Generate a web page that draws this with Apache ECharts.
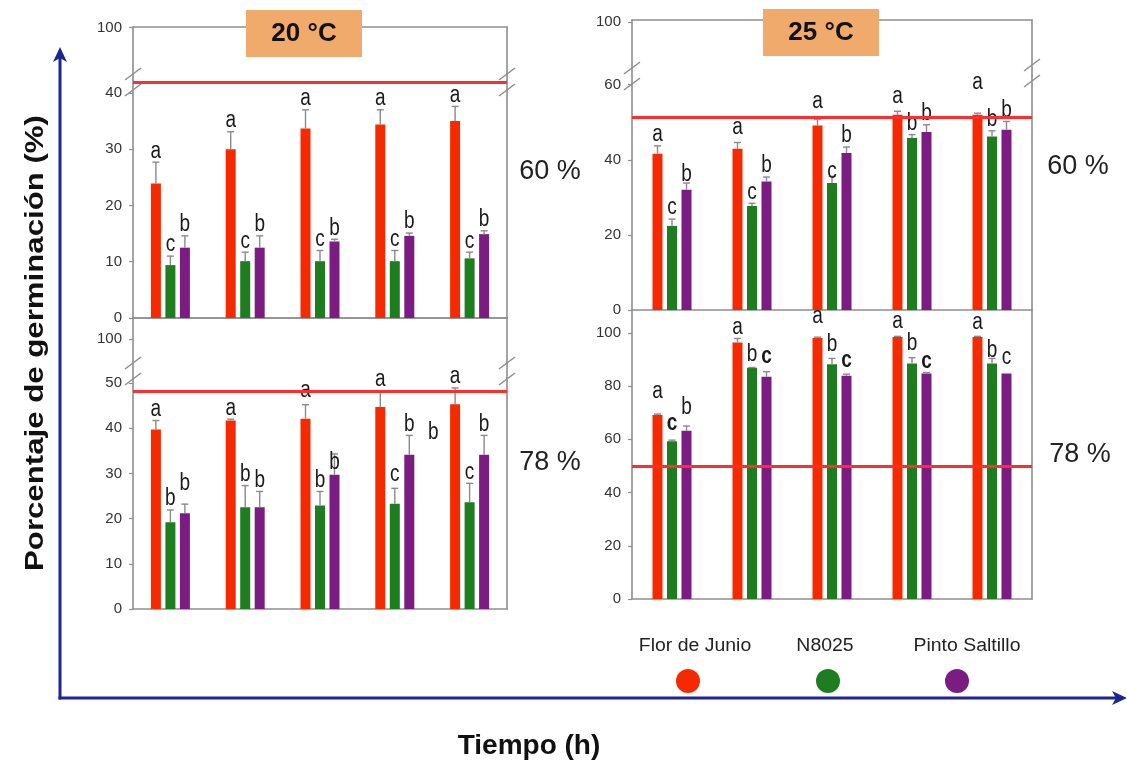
<!DOCTYPE html>
<html>
<head>
<meta charset="utf-8">
<script src="https://cdn.jsdelivr.net/npm/echarts@6/dist/echarts.min.js"></script>
<style>
  html, body { margin: 0; padding: 0; background: #ffffff; }
  #chart { width: 1127px; height: 762px; }
</style>
</head>
<body>
<div id="chart"></div>
<script>
// ---- Data -------------------------------------------------------------
const times = ['T1', 'T2', 'T3', 'T4', 'T5'];
const cultivars = ['Flor de Junio', 'N8025', 'Pinto Saltillo'];

// 20 °C, 60 % humidity
const t20h60Flor  = [23.9, 30.0, 33.7, 34.4, 35.0];
const t20h60FlorErr  = [3.8, 3.1, 3.3, 2.6, 2.6];
const t20h60N8025 = [9.4, 10.1, 10.1, 10.1, 10.6];
const t20h60N8025Err = [1.6, 1.6, 1.9, 1.9, 1.1];
const t20h60Pinto = [12.5, 12.5, 13.6, 14.6, 14.9];
const t20h60PintoErr = [2.1, 2.1, 0.4, 0.5, 0.6];
const t20h60Letters = [['a','a','a','a','a'], ['c','c','c','c','c'], ['b','b','b','b','b']];
const t20h60Threshold = 41.9;

// 20 °C, 78 % humidity
const t20h78Flor  = [39.7, 41.7, 42.1, 44.7, 45.3];
const t20h78FlorErr  = [2.0, 0.3, 3.1, 3.5, 3.6];
const t20h78N8025 = [19.2, 22.5, 22.9, 23.3, 23.6];
const t20h78N8025Err = [2.7, 4.8, 3.1, 3.4, 4.2];
const t20h78Pinto = [21.2, 22.5, 29.7, 34.1, 34.1];
const t20h78PintoErr = [2.0, 3.5, 4.6, 4.3, 4.3];
const t20h78Letters = [['a','a','a','a','a'], ['b','b','b','c','c'], ['b','b','b','b','b']];
const t20h78Threshold = 48.2;

// 25 °C, 60 % humidity
const t25h60Flor  = [41.6, 42.9, 49.1, 52.0, 52.0];
const t25h60FlorErr  = [2.1, 1.7, 1.7, 0.9, 0.4];
const t25h60N8025 = [22.4, 27.7, 33.8, 45.8, 46.2];
const t25h60N8025Err = [1.8, 0.7, 1.8, 0.9, 1.5];
const t25h60Pinto = [32.0, 34.2, 41.8, 47.4, 48.0];
const t25h60PintoErr = [1.8, 1.2, 1.6, 1.9, 2.2];
const t25h60Letters = [['a','a','a','a','a'], ['c','c','c','b','b'], ['b','b','b','b','b']];
const t25h60Threshold = 51.4;

// 25 °C, 78 % humidity
const t25h78Flor  = [69.1, 96.4, 98.1, 98.5, 98.5];
const t25h78FlorErr  = [0.4, 1.5, 0.3, 0.2, 0.2];
const t25h78N8025 = [59.3, 86.9, 88.2, 88.5, 88.5];
const t25h78N8025Err = [0.4, 0.1, 2.2, 2.2, 1.9];
const t25h78Pinto = [63.2, 83.5, 83.9, 84.7, 84.7];
const t25h78PintoErr = [1.8, 1.9, 0.6, 0.4, 0.0];
const t25h78Letters = [['a','a','a','a','a'], ['c','b','b','b','b'], ['b','c','c','c','c']];
const t25h78Threshold = 50.0;

// ---- Styling / layout -------------------------------------------------
const FONT = "'Liberation Sans', Arial, Helvetica, sans-serif";
const FRAME = '#8e8e8e';
const AXIS_BLUE = '#1c2590';
const COLORS = ['#f52a00', '#1e7d1e', '#7b1c82'];
const ERR_COLOR = '#8a8a8a';
const LINE_RED = '#ff2e2e';
const BAR_W = 10, BAR_GAP = 0.45, STEP = BAR_W * (1 + BAR_GAP);

// Letter nudges in pixels (key "group:bar"), negative = up
const panels = [
  {
    left: 133, width: 374,
    upper: { top: 27, height: 53, min: 60, max: 100.5 },
    lower: { top: 80, height: 238, max: 42.3, ticks: [0, 10, 20, 30, 40] },
    values: [t20h60Flor, t20h60N8025, t20h60Pinto],
    errs: [t20h60FlorErr, t20h60N8025Err, t20h60PintoErr],
    letters: t20h60Letters, threshold: t20h60Threshold,
    shifts: {}, bold: [], extra: [],
    breaks: [[133, 82], [507, 82]]
  },
  {
    left: 133, width: 374,
    upper: { top: 318, height: 60, min: 60, max: 121.5 },
    lower: { top: 378, height: 231, max: 51.1, ticks: [0, 10, 20, 30, 40, 50] },
    values: [t20h78Flor, t20h78N8025, t20h78Pinto],
    errs: [t20h78FlorErr, t20h78N8025Err, t20h78PintoErr],
    letters: t20h78Letters, threshold: t20h78Threshold,
    shifts: { '0:2': -10, '2:0': -3, '2:2': 20, '3:1': -3 }, bold: [],
    extra: [{ g: 3, k: 2, text: 'b', dx: 24, dy: 8 }],
    breaks: [[133, 371], [507, 371]]
  },
  {
    left: 632, width: 400,
    upper: { top: 20, height: 56, min: 60, max: 101.5 },
    lower: { top: 76, height: 234, max: 62.3, ticks: [0, 20, 40, 60] },
    values: [t25h60Flor, t25h60N8025, t25h60Pinto],
    errs: [t25h60FlorErr, t25h60N8025Err, t25h60PintoErr],
    letters: t25h60Letters, threshold: t25h60Threshold,
    shifts: { '0:2': 3, '1:0': -4, '2:0': -7, '2:1': 6, '3:0': -4, '4:0': -20 }, bold: [], extra: [],
    breaks: [[632, 76], [1032, 73]]
  },
  {
    left: 632, width: 400,
    upper: null,
    lower: { top: 310, height: 289, max: 108.6, ticks: [0, 20, 40, 60, 80, 100] },
    values: [t25h78Flor, t25h78N8025, t25h78Pinto],
    errs: [t25h78FlorErr, t25h78N8025Err, t25h78PintoErr],
    letters: t25h78Letters, threshold: t25h78Threshold,
    shifts: { '0:0': -11, '0:1': -6, '0:2': -7, '1:1': -2, '1:2': -4, '2:0': -10, '2:1': -3, '2:2': -3,
              '3:0': -4, '3:1': -3, '4:0': -3, '4:1': 3, '4:2': -5 },
    bold: ['0:1', '1:2', '2:2', '3:2'], extra: [],
    breaks: []
  }
];

// ---- Build option -----------------------------------------------------
const grids = [], xAxes = [], yAxes = [], series = [];
const frameLine = { show: true, lineStyle: { color: FRAME, width: 1.6 } };
const tickStyle = { color: FRAME, width: 1.2 };
const labelStyle = { color: '#333', fontSize: 15, fontFamily: FONT, margin: 11 };

function addGrid(left, top, width, height, xPos) {
  const gi = grids.length;
  grids.push({ left, top, width, height, containLabel: false });
  xAxes.push({
    gridIndex: gi, type: 'category', data: times, position: xPos,
    axisLine: frameLine, axisTick: { show: false }, axisLabel: { show: false }, splitLine: { show: false }
  });
  return gi;
}

function addYAxes(gi, min, max, ticks) {
  const leftIndex = yAxes.length;
  yAxes.push({
    gridIndex: gi, type: 'value', position: 'left', min, max,
    axisLine: frameLine,
    axisTick: { show: true, length: 4, lineStyle: tickStyle, customValues: ticks },
    axisLabel: Object.assign({ show: true, customValues: ticks }, labelStyle),
    splitLine: { show: false }
  });
  yAxes.push({
    gridIndex: gi, type: 'value', position: 'right', min, max,
    axisLine: frameLine, axisTick: { show: false }, axisLabel: { show: false }, splitLine: { show: false }
  });
  return leftIndex;
}

panels.forEach((p) => {
  if (p.upper) {
    const gu = addGrid(p.left, p.upper.top, p.width, p.upper.height, 'top');
    addYAxes(gu, p.upper.min, p.upper.max, [100]);
  }
  const gl = addGrid(p.left, p.lower.top, p.width, p.lower.height, 'bottom');
  const yi = addYAxes(gl, 0, p.lower.max, p.lower.ticks);
  const xi = xAxes.length - 1;

  // bars
  p.values.forEach((vals, k) => {
    const s = {
      type: 'bar', name: cultivars[k], xAxisIndex: xi, yAxisIndex: yi,
      data: vals, barWidth: BAR_W, barGap: (BAR_GAP * 100) + '%',
      itemStyle: { color: COLORS[k] }, silent: true, z: 2
    };
    if (k === 0) {
      s.markLine = {
        silent: true, symbol: ['none', 'none'], z: 6,
        label: { show: false },
        lineStyle: { color: LINE_RED, width: 3, type: 'solid' },
        data: [{ yAxis: p.threshold }]
      };
    }
    series.push(s);
  });

  // error bars (upper whisker only)
  const errData = [];
  p.values.forEach((vals, k) => vals.forEach((v, g) => {
    if (p.errs[k][g] > 0) errData.push([g, v, p.errs[k][g], k]);
  }));
  series.push({
    type: 'custom', xAxisIndex: xi, yAxisIndex: yi, silent: true, z: 4,
    data: errData,
    encode: { x: 0, y: 1 },
    renderItem: (params, api) => {
      const g = api.value(0), v = api.value(1), e = api.value(2), k = api.value(3);
      const base = api.coord([g, v]);
      const top = api.coord([g, v + e]);
      const x = base[0] + (k - 1) * STEP;
      const st = { stroke: ERR_COLOR, lineWidth: 1.4 };
      return {
        type: 'group', children: [
          { type: 'line', shape: { x1: x, y1: base[1], x2: x, y2: top[1] }, style: st },
          { type: 'line', shape: { x1: x - 3.5, y1: top[1], x2: x + 3.5, y2: top[1] }, style: st }
        ]
      };
    }
  });

  // significance letters
  const letterItems = [];
  p.values.forEach((vals, k) => vals.forEach((v, g) => {
    const key = g + ':' + k;
    letterItems.push({
      g, k, top: v + p.errs[k][g], text: p.letters[k][g],
      dy: p.shifts[key] || 0, dx: 0, bold: p.bold.indexOf(key) >= 0
    });
  }));
  p.extra.forEach((ex) => {
    letterItems.push({
      g: ex.g, k: ex.k, top: p.values[ex.k][ex.g] + p.errs[ex.k][ex.g], text: ex.text,
      dy: ex.dy, dx: ex.dx, bold: false
    });
  });
  series.push({
    type: 'custom', xAxisIndex: xi, yAxisIndex: yi, silent: true, z: 5,
    data: letterItems.map((it) => [it.g, it.top]),
    encode: { x: 0, y: 1 },
    renderItem: (params, api) => {
      const it = letterItems[params.dataIndex];
      const pt = api.coord([it.g, it.top]);
      return {
        type: 'text',
        x: pt[0] + (it.k - 1) * STEP + it.dx,
        y: pt[1] - 11 + it.dy,
        scaleY: 1.22,
        style: {
          text: it.text, fill: '#1a1a1a',
          font: (it.bold ? 'bold ' : '') + '19px ' + FONT,
          textAlign: 'center', textVerticalAlign: 'middle', verticalAlign: 'middle'
        }
      };
    }
  });
});

// ---- Decorations ------------------------------------------------------
const graphics = [];

// axis-break slashes
panels.forEach((p) => p.breaks.forEach(([cx, cy]) => {
  [-8, 8].forEach((off) => {
    graphics.push({
      type: 'line', z: 20,
      shape: { x1: cx - 8, y1: cy + off + 6, x2: cx + 8, y2: cy + off - 6 },
      style: { stroke: FRAME, lineWidth: 1.5 }
    });
  });
}));

// temperature boxes
[['20 °C', 246, 10], ['25 °C', 763, 9]].forEach(([txt, x, y]) => {
  graphics.push({
    type: 'rect', z: 30, shape: { x, y, width: 116, height: 47 },
    style: { fill: '#f0aa6c' }
  });
  graphics.push({
    type: 'text', z: 31, x: x + 58, y: y + 24,
    style: { text: txt, font: 'bold 26px ' + FONT, fill: '#111', textAlign: 'center', textVerticalAlign: 'middle', verticalAlign: 'middle' }
  });
});

// humidity labels
[['60 %', 550, 172], ['78 %', 550, 463], ['60 %', 1078, 167], ['78 %', 1080, 455]].forEach(([txt, x, y]) => {
  graphics.push({
    type: 'text', z: 30, x, y,
    style: { text: txt, font: '27px ' + FONT, fill: '#222', textAlign: 'center', textVerticalAlign: 'middle', verticalAlign: 'middle' }
  });
});

// legend: name above a coloured dot
[[695, 688], [825, 828], [967, 957]].forEach(([tx, cx], k) => {
  graphics.push({
    type: 'text', z: 30, x: tx, y: 646, scaleX: 1.08,
    style: { text: cultivars[k], font: '18px ' + FONT, fill: '#222', textAlign: 'center', textVerticalAlign: 'middle', verticalAlign: 'middle' }
  });
  graphics.push({
    type: 'circle', z: 30, shape: { cx, cy: 681, r: 12 },
    style: { fill: COLORS[k] }
  });
});

// outer axes with arrows
graphics.push({ type: 'line', z: 25, shape: { x1: 60, y1: 699.5, x2: 60, y2: 56 }, style: { stroke: AXIS_BLUE, lineWidth: 3 } });
graphics.push({ type: 'polygon', z: 25, shape: { points: [[60, 47], [53, 62], [60, 58], [67, 62]] }, style: { fill: AXIS_BLUE } });
graphics.push({ type: 'line', z: 25, shape: { x1: 58.5, y1: 698, x2: 1119, y2: 698 }, style: { stroke: AXIS_BLUE, lineWidth: 3 } });
graphics.push({ type: 'polygon', z: 25, shape: { points: [[1127, 698], [1112, 691], [1116, 698], [1112, 705]] }, style: { fill: AXIS_BLUE } });

// axis titles
graphics.push({
  type: 'text', z: 30, x: 36, y: 343, rotation: Math.PI / 2, scaleX: 1.2,
  style: { text: 'Porcentaje de germinación (%)', font: 'bold 26px ' + FONT, fill: '#111', textAlign: 'center', textVerticalAlign: 'middle', verticalAlign: 'middle' }
});
graphics.push({
  type: 'text', z: 30, x: 529, y: 746,
  style: { text: 'Tiempo (h)', font: 'bold 28px ' + FONT, fill: '#111', textAlign: 'center', textVerticalAlign: 'middle', verticalAlign: 'middle' }
});

const chart = echarts.init(document.getElementById('chart'), null, { renderer: 'canvas' });
chart.setOption({
  animation: false,
  backgroundColor: '#ffffff',
  grid: grids,
  xAxis: xAxes,
  yAxis: yAxes,
  series: series,
  graphic: { elements: graphics }
});
</script>
</body>
</html>
